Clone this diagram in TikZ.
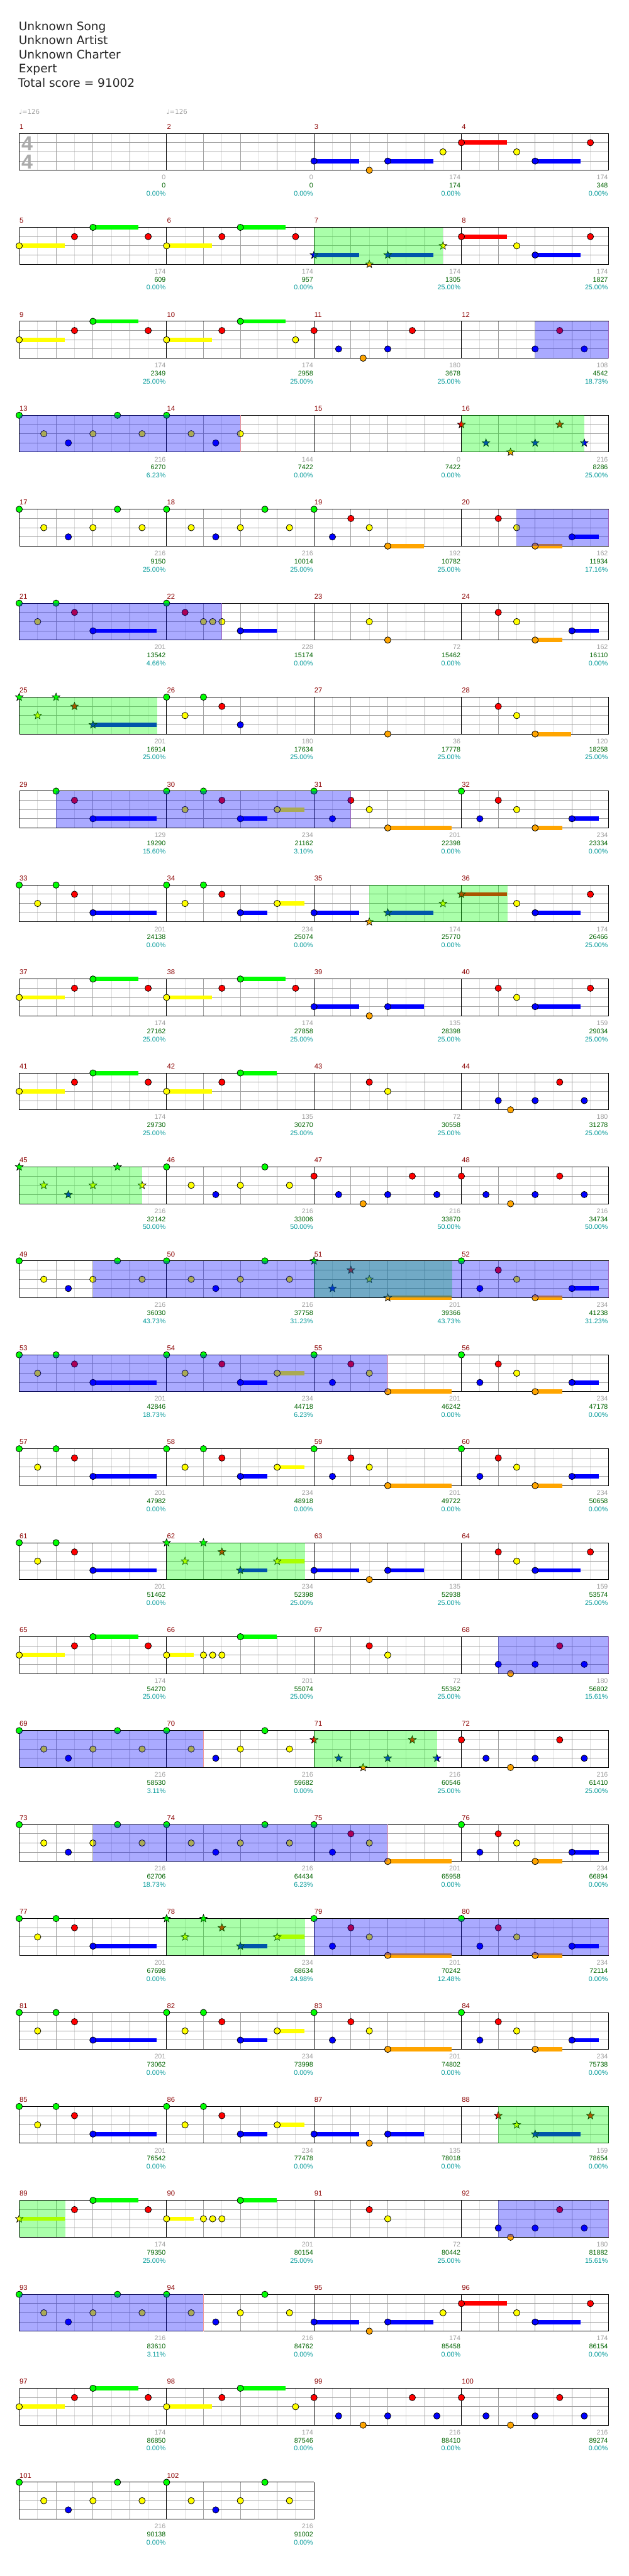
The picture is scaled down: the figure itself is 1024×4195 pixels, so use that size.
\documentclass[tikz,border=0pt]{standalone}
\usepackage{fontspec}
\setmainfont{Liberation Sans}
\newfontfamily\hdrfont{DejaVu Sans}
\definecolor{ln0}{RGB}{0,255,0}
\definecolor{ln1}{RGB}{255,0,0}
\definecolor{ln2}{RGB}{255,255,0}
\definecolor{ln3}{RGB}{0,0,255}
\definecolor{ln4}{RGB}{255,165,0}
\definecolor{gridA}{RGB}{160,160,160}
\definecolor{gridB}{RGB}{222,222,222}
\definecolor{mred}{RGB}{139,0,0}
\definecolor{sgray}{RGB}{160,160,160}
\definecolor{sgreen}{RGB}{0,100,0}
\definecolor{steal}{RGB}{0,153,153}
\definecolor{bendc}{RGB}{240,150,150}
\tikzset{
  every node/.style={inner sep=0pt,outer sep=0pt},
  mnum/.style={anchor=base west,text=mred,font=\fontsize{11.5}{12}\selectfont},
  sca/.style={anchor=base east,text=sgray,font=\fontsize{11}{12}\selectfont},
  scb/.style={anchor=base east,text=sgreen,font=\fontsize{11}{12}\selectfont},
  scc/.style={anchor=base east,text=steal,font=\fontsize{11}{12}\selectfont},
  hdr/.style={anchor=base west,text=black!85,font=\hdrfont\fontsize{19}{23}\selectfont},
  tempo/.style={anchor=base west,text=sgray,font=\hdrfont\fontsize{10.5}{12}\selectfont},
  tsig/.style={anchor=base,text=black!33,font=\bfseries\fontsize{33}{33}\selectfont},
  thin grid/.style={gridB,line width=1pt},
  main grid/.style={gridA,line width=1pt},
  frame line/.style={black,line width=1pt},
  note line/.style={black,line width=0.8pt},
}
\newcommand\getxy[1]{%
  \pgfmathtruncatemacro\mcol{mod(#1-1,4)}%
  \pgfmathtruncatemacro\mrow{(#1-1)/4}%
  \pgfmathsetmacro\mX{31.3+240*\mcol}%
  \pgfmathsetmacro\mY{217.3+153*\mrow}}
\newcommand\gridm[1]{\getxy{#1}%
  \begin{scope}[shift={(\mX,\mY)}]
    \foreach \i in {30,90,150,210} \draw[thin grid] (\i,0) -- (\i,60);
    \foreach \j in {15,30,45} \draw[main grid] (0,\j) -- (240,\j);
    \foreach \i in {60,120,180} \draw[main grid] (\i,0) -- (\i,60);
    \draw[frame line] (0,0) -- (240,0) (0,60) -- (240,60) (0,0) -- (0,60) (240,0) -- (240,60);
  \end{scope}}
% regular note: measure, position (16ths), lane, sustain (16ths)
\newcommand\NT[4]{\getxy{#1}%
  \pgfmathsetmacro\nx{\mX+15*(#2)}\pgfmathsetmacro\ny{\mY+15*#3}%
  \ifdim #4pt>0pt \fill[ln#3] (\nx,\ny-3.5) rectangle (\nx+15*#4-1,\ny+3.5);\fi
  \draw[note line,fill=ln#3] (\nx,\ny) circle (5.2pt);}
% star power note
\newcommand\ST[4]{\getxy{#1}%
  \pgfmathsetmacro\nx{\mX+15*(#2)}\pgfmathsetmacro\ny{\mY+15*#3}%
  \ifdim #4pt>0pt \fill[ln#3] (\nx,\ny-3.5) rectangle (\nx+15*#4-1,\ny+3.5);\fi
  \draw[note line,line width=0.7pt,fill=ln#3,line join=miter] (\nx,\ny) +(90:6.6pt) -- +(126:2.8pt) -- +(162:6.6pt) -- +(198:2.8pt) -- +(234:6.6pt) -- +(270:2.8pt) -- +(306:6.6pt) -- +(342:2.8pt) -- +(18:6.6pt) -- +(54:2.8pt) -- cycle;}
% overlay region: colour, m1, p1, m2, p2 (same row)
\newcommand\spreg[5]{\getxy{#2}\pgfmathsetmacro\xa{\mX+15*(#3)}\let\ya\mY
  \getxy{#4}\pgfmathsetmacro\xb{\mX+15*(#5)}%
  \fill[#1,fill opacity=0.3333] (\xa,\ya) rectangle (\xb,\ya+60);}
\newcommand\bendl[2]{\getxy{#1}\draw[bendc,line width=1pt] (\mX+15*#2,\mY) -- (\mX+15*#2,\mY+60);}
% patterns
\newcommand\patA[1]{\NT{#1}{0}{2}{5}\NT{#1}{6}{1}{0}\NT{#1}{8}{0}{5}\NT{#1}{14}{1}{0}}
\newcommand\patAy[1]{\NT{#1}{0}{2}{5}\NT{#1}{6}{1}{0}\NT{#1}{8}{0}{5}\NT{#1}{14}{2}{0}}
\newcommand\patM[2]{#1{#2}{0}{3}{5}#1{#2}{6}{4}{0}#1{#2}{8}{3}{5}#1{#2}{14}{2}{0}}
\newcommand\patN[2]{#1{#2}{0}{1}{5}#1{#2}{6}{2}{0}#1{#2}{8}{3}{5}#1{#2}{14}{1}{0}}
\newcommand\tGY[2]{#1{#2}{0}{0}{0}#1{#2}{2.6667}{2}{0}#1{#2}{5.3333}{3}{0}#1{#2}{8}{2}{0}#1{#2}{10.6667}{0}{0}#1{#2}{13.3333}{2}{0}}
\newcommand\tRB[2]{#1{#2}{0}{1}{0}#1{#2}{2.6667}{3}{0}#1{#2}{5.3333}{4}{0}#1{#2}{8}{3}{0}#1{#2}{10.6667}{1}{0}#1{#2}{13.3333}{3}{0}}
\newcommand\tBO[2]{#1{#2}{4}{3}{0}#1{#2}{5.3333}{4}{0}#1{#2}{8}{3}{0}#1{#2}{10.6667}{1}{0}#1{#2}{13.3333}{3}{0}}
\newcommand\patP[2]{#1{#2}{0}{0}{0}#1{#2}{2}{2}{0}#1{#2}{4}{0}{0}#1{#2}{6}{1}{0}#1{#2}{8}{3}{7}}
\newcommand\patQ[2]{#1{#2}{0}{0}{0}#1{#2}{2}{2}{0}#1{#2}{4}{0}{0}#1{#2}{6}{1}{0}#1{#2}{8}{3}{3}#1{#2}{12}{2}{3}}
\newcommand\patR[2]{#1{#2}{0}{0}{0}#1{#2}{2}{3}{0}#1{#2}{4}{1}{0}#1{#2}{6}{2}{0}#1{#2}{8}{4}{7}}
\newcommand\patS[2]{#1{#2}{0}{0}{0}#1{#2}{2}{3}{0}#1{#2}{4}{1}{0}#1{#2}{6}{2}{0}#1{#2}{8}{4}{3}#1{#2}{12}{3}{3}}
\begin{document}
\begin{tikzpicture}[x=1pt,y=-1pt]
\useasboundingbox[fill=white] (0,0) rectangle (1024,4195);
% header
\node[hdr] (h1) at (30.5,49.5) {Unknown Song};
\node[hdr] (h2) at (30.5,72.5) {Unknown Artist};
\node[hdr] (h3) at (30.5,95.5) {Unknown Charter};
\node[hdr] (h4) at (30.5,118.5) {Expert};
\node[hdr] (h5) at (29.5,141.5) {Total score = 91002};
\node[tempo] (tp1) at (31,185.5) {\char"2669=126};
\node[tempo] (tp2) at (271.3,185.5) {\char"2669=126};
% grid
\foreach \m in {1,...,102} {\gridm{\m}}
\node[tsig] (ts1) at (44,245) {4};
\node[tsig] (ts2) at (44,275) {4};
% solo section end marks
\bendl{12}{16}\bendl{14}{8}\bendl{20}{16}\bendl{22}{6}\bendl{31}{4}\bendl{52}{16}\bendl{55}{8}
\bendl{68}{16}\bendl{70}{4}\bendl{75}{8}\bendl{80}{16}\bendl{92}{16}\bendl{94}{4}
% notes
\patM\NT{3}\patN\NT{4}
\patA{5}\patA{6}\patM\ST{7}\patN\NT{8}
\patA{9}\patAy{10}
\NT{11}{0}{1}{0}\NT{11}{2.6667}{3}{0}\NT{11}{5.3333}{4}{0}\NT{11}{8}{3}{0}\NT{11}{10.6667}{1}{0}
\NT{12}{8}{3}{0}\NT{12}{10.6667}{1}{0}\NT{12}{13.3333}{3}{0}
\tGY\NT{13}
\NT{14}{0}{0}{0}\NT{14}{2.6667}{2}{0}\NT{14}{5.3333}{3}{0}\NT{14}{8}{2}{0}
\tRB\ST{16}
\tGY\NT{17}\tGY\NT{18}
\NT{19}{0}{0}{0}\NT{19}{2}{3}{0}\NT{19}{4}{1}{0}\NT{19}{6}{2}{0}\NT{19}{8}{4}{4}
\NT{20}{4}{1}{0}\NT{20}{6}{2}{0}\NT{20}{8}{4}{3}\NT{20}{12}{3}{3}
\patP\NT{21}
\NT{22}{0}{0}{0}\NT{22}{2}{1}{0}\NT{22}{4}{2}{0}\NT{22}{5}{2}{0}\NT{22}{6}{2}{0}\NT{22}{8}{3}{4}
\NT{23}{6}{2}{0}\NT{23}{8}{4}{0}
\NT{24}{4}{1}{0}\NT{24}{6}{2}{0}\NT{24}{8}{4}{3}\NT{24}{12}{3}{3}
\patP\ST{25}
\NT{26}{0}{0}{0}\NT{26}{2}{2}{0}\NT{26}{4}{0}{0}\NT{26}{6}{1}{0}\NT{26}{8}{3}{0}
\NT{27}{8}{4}{0}
\NT{28}{4}{1}{0}\NT{28}{6}{2}{0}\NT{28}{8}{4}{4}
\NT{29}{4}{0}{0}\NT{29}{6}{1}{0}\NT{29}{8}{3}{7}
\patQ\NT{30}\patR\NT{31}\patS\NT{32}
\patP\NT{33}\patQ\NT{34}
\NT{35}{0}{3}{5}\ST{35}{6}{4}{0}\ST{35}{8}{3}{5}\ST{35}{14}{2}{0}
\ST{36}{0}{1}{5}\NT{36}{6}{2}{0}\NT{36}{8}{3}{5}\NT{36}{14}{1}{0}
\patA{37}\patA{38}
\NT{39}{0}{3}{5}\NT{39}{6}{4}{0}\NT{39}{8}{3}{4}
\NT{40}{4}{1}{0}\NT{40}{6}{2}{0}\NT{40}{8}{3}{5}\NT{40}{14}{1}{0}
\patA{41}
\NT{42}{0}{2}{5}\NT{42}{6}{1}{0}\NT{42}{8}{0}{4}
\NT{43}{6}{1}{0}\NT{43}{8}{2}{0}
\tBO\NT{44}
\tGY\ST{45}\tGY\NT{46}\tRB\NT{47}\tRB\NT{48}
\tGY\NT{49}\tGY\NT{50}\patR\ST{51}\patS\NT{52}
\patP\NT{53}\patQ\NT{54}\patR\NT{55}\patS\NT{56}
\patP\NT{57}\patQ\NT{58}\patR\NT{59}\patS\NT{60}
\patP\NT{61}\patQ\ST{62}
\NT{63}{0}{3}{5}\NT{63}{6}{4}{0}\NT{63}{8}{3}{4}
\NT{64}{4}{1}{0}\NT{64}{6}{2}{0}\NT{64}{8}{3}{5}\NT{64}{14}{1}{0}
\patA{65}
\NT{66}{0}{2}{3}\NT{66}{4}{2}{0}\NT{66}{5}{2}{0}\NT{66}{6}{2}{0}\NT{66}{8}{0}{4}
\NT{67}{6}{1}{0}\NT{67}{8}{2}{0}
\tBO\NT{68}
\tGY\NT{69}\tGY\NT{70}\tRB\ST{71}\tRB\NT{72}
\tGY\NT{73}\tGY\NT{74}\patR\NT{75}\patS\NT{76}
\patP\NT{77}\patQ\ST{78}\patR\NT{79}\patS\NT{80}
\patP\NT{81}\patQ\NT{82}\patR\NT{83}\patS\NT{84}
\patP\NT{85}\patQ\NT{86}
\NT{87}{0}{3}{5}\NT{87}{6}{4}{0}\NT{87}{8}{3}{4}
\ST{88}{4}{1}{0}\ST{88}{6}{2}{0}\ST{88}{8}{3}{5}\ST{88}{14}{1}{0}
\ST{89}{0}{2}{5}\NT{89}{6}{1}{0}\NT{89}{8}{0}{5}\NT{89}{14}{1}{0}
\NT{90}{0}{2}{3}\NT{90}{4}{2}{0}\NT{90}{5}{2}{0}\NT{90}{6}{2}{0}\NT{90}{8}{0}{4}
\NT{91}{6}{1}{0}\NT{91}{8}{2}{0}
\tBO\NT{92}
\tGY\NT{93}\tGY\NT{94}\patM\NT{95}\patN\NT{96}
\patA{97}\patAy{98}\tRB\NT{99}\tRB\NT{100}
\tGY\NT{101}\tGY\NT{102}
% star power (green) sections
\spreg{ln0}{7}{0}{7}{14}\spreg{ln0}{16}{0}{16}{13.3333}\spreg{ln0}{25}{0}{25}{15}
\spreg{ln0}{35}{6}{36}{5}\spreg{ln0}{45}{0}{45}{13.3333}\spreg{ln0}{51}{0}{51}{15}
\spreg{ln0}{62}{0}{62}{15}\spreg{ln0}{71}{0}{71}{13.3333}\spreg{ln0}{78}{0}{78}{15}
\spreg{ln0}{88}{4}{88}{16}\spreg{ln0}{89}{0}{89}{5}
% solo (blue) sections
\spreg{ln3}{12}{8}{12}{16}\spreg{ln3}{13}{0}{14}{8}
\spreg{ln3}{20}{6}{20}{16}\spreg{ln3}{21}{0}{22}{6}
\spreg{ln3}{29}{4}{31}{4}
\spreg{ln3}{49}{8}{52}{16}\spreg{ln3}{53}{0}{55}{8}
\spreg{ln3}{68}{4}{68}{16}\spreg{ln3}{69}{0}{70}{4}
\spreg{ln3}{73}{8}{75}{8}\spreg{ln3}{79}{0}{80}{16}
\spreg{ln3}{92}{4}{92}{16}\spreg{ln3}{93}{0}{94}{4}
% measure numbers
\foreach \m in {1,...,102} {\getxy{\m}\node[mnum] (mn\m) at (\mX+0.7,\mY-7) {\m};}
% scores
\foreach \m/\a/\b/\c in {1/0/0/0.00,2/0/0/0.00,3/174/174/0.00,4/174/348/0.00,
5/174/609/0.00,6/174/957/0.00,7/174/1305/25.00,8/174/1827/25.00,
9/174/2349/25.00,10/174/2958/25.00,11/180/3678/25.00,12/108/4542/18.73,
13/216/6270/6.23,14/144/7422/0.00,15/0/7422/0.00,16/216/8286/25.00,
17/216/9150/25.00,18/216/10014/25.00,19/192/10782/25.00,20/162/11934/17.16,
21/201/13542/4.66,22/228/15174/0.00,23/72/15462/0.00,24/162/16110/0.00,
25/201/16914/25.00,26/180/17634/25.00,27/36/17778/25.00,28/120/18258/25.00,
29/129/19290/15.60,30/234/21162/3.10,31/201/22398/0.00,32/234/23334/0.00,
33/201/24138/0.00,34/234/25074/0.00,35/174/25770/0.00,36/174/26466/25.00,
37/174/27162/25.00,38/174/27858/25.00,39/135/28398/25.00,40/159/29034/25.00,
41/174/29730/25.00,42/135/30270/25.00,43/72/30558/25.00,44/180/31278/25.00,
45/216/32142/50.00,46/216/33006/50.00,47/216/33870/50.00,48/216/34734/50.00,
49/216/36030/43.73,50/216/37758/31.23,51/201/39366/43.73,52/234/41238/31.23,
53/201/42846/18.73,54/234/44718/6.23,55/201/46242/0.00,56/234/47178/0.00,
57/201/47982/0.00,58/234/48918/0.00,59/201/49722/0.00,60/234/50658/0.00,
61/201/51462/0.00,62/234/52398/25.00,63/135/52938/25.00,64/159/53574/25.00,
65/174/54270/25.00,66/201/55074/25.00,67/72/55362/25.00,68/180/56802/15.61,
69/216/58530/3.11,70/216/59682/0.00,71/216/60546/25.00,72/216/61410/25.00,
73/216/62706/18.73,74/216/64434/6.23,75/201/65958/0.00,76/234/66894/0.00,
77/201/67698/0.00,78/234/68634/24.98,79/201/70242/12.48,80/234/72114/0.00,
81/201/73062/0.00,82/234/73998/0.00,83/201/74802/0.00,84/234/75738/0.00,
85/201/76542/0.00,86/234/77478/0.00,87/135/78018/0.00,88/159/78654/0.00,
89/174/79350/25.00,90/201/80154/25.00,91/72/80442/25.00,92/180/81882/15.61,
93/216/83610/3.11,94/216/84762/0.00,95/174/85458/0.00,96/174/86154/0.00,
97/174/86850/0.00,98/174/87546/0.00,99/216/88410/0.00,100/216/89274/0.00,
101/216/90138/0.00,102/216/91002/0.00}
{\getxy{\m}%
 \node[sca] (sa\m) at (\mX+238.5,\mY+75.5) {\a};
 \node[scb] (sb\m) at (\mX+238.5,\mY+88.7) {\b};
 \node[scc] (sc\m) at (\mX+238.5,\mY+101.8) {\c\%};}
\end{tikzpicture}
\end{document}
